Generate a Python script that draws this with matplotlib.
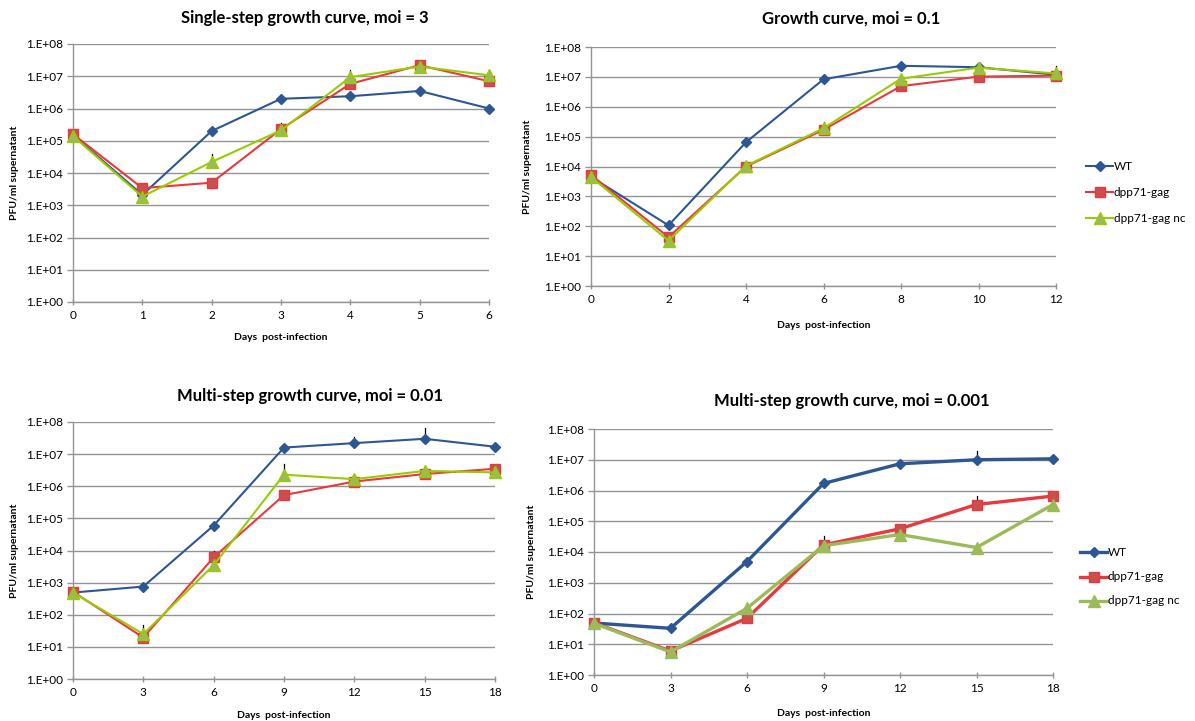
import numpy as np
import matplotlib
matplotlib.use("Agg")
import matplotlib.pyplot as plt

plt.rcParams['font.family'] = ['Lato', 'DejaVu Sans']

series_names = ["WT", "dpp71-gag", "dpp71-gag nc"]

# --- Single-step growth curve, moi = 3 ---
days_a = [0, 1, 2, 3, 4, 5, 6]
wt_a = [1.5e5, 2.1e3, 2.0e5, 2.0e6, 2.4e6, 3.5e6, 1.0e6]
gag_a = [1.6e5, 3.4e3, 5.0e3, 2.3e5, 5.8e6, 2.2e7, 7.0e6]
nc_a = [1.4e5, 1.85e3, 2.2e4, 2.1e5, 9.4e6, 2.0e7, 1.07e7]
wt_a_top = [None, 2.6e3, None, None, None, None, None]
gag_a_top = [2.0e5, None, None, 3.0e5, None, None, None]
nc_a_top = [None, None, 3.8e4, 3.5e5, 1.6e7, None, None]

# --- Growth curve, moi = 0.1 ---
days_b = [0, 2, 4, 6, 8, 10, 12]
wt_b = [4.5e3, 1.07e2, 6.5e4, 8.3e6, 2.35e7, 2.1e7, 1.18e7]
gag_b = [5.2e3, 43, 1.0e4, 1.7e5, 4.9e6, 1.02e7, 1.1e7]
nc_b = [4.5e3, 33, 1.05e4, 1.9e5, 8.7e6, 2.04e7, 1.3e7]
wt_b_top = [None, None, None, None, None, None, None]
gag_b_top = [None, None, None, None, None, None, None]
nc_b_top = [None, None, None, 3.2e5, None, 2.9e7, 2.3e7]

# --- Multi-step growth curve, moi = 0.01 ---
days_c = [0, 3, 6, 9, 12, 15, 18]
wt_c = [490, 755, 6.0e4, 1.6e7, 2.2e7, 3.0e7, 1.7e7]
gag_c = [520, 19.5, 6.1e3, 5.3e5, 1.4e6, 2.4e6, 3.5e6]
nc_c = [490, 25, 3.5e3, 2.3e6, 1.66e6, 3.0e6, 2.7e6]
wt_c_top = [None, None, None, None, 3.4e7, 6.5e7, None]
gag_c_top = [None, None, 1.0e4, None, None, None, None]
nc_c_top = [None, 49, None, 5.1e6, None, None, None]

# --- Multi-step growth curve, moi = 0.001 ---
days_d = [0, 3, 6, 9, 12, 15, 18]
wt_d = [49, 33, 4.9e3, 1.7e6, 7.4e6, 1.0e7, 1.07e7]
gag_d = [50, 6.0, 70, 1.7e4, 5.7e4, 3.5e5, 6.6e5]
nc_d = [48, 5.6, 148, 1.6e4, 3.7e4, 1.4e4, 3.5e5]
wt_d_top = [None, None, None, None, None, 1.9e7, None]
gag_d_top = [None, None, None, 3.2e4, None, 6.8e5, None]
nc_d_top = [None, None, None, None, None, None, None]

ytick_vals = [1e0, 1e1, 1e2, 1e3, 1e4, 1e5, 1e6, 1e7, 1e8]
ytick_labels = ["1.E+00", "1.E+01", "1.E+02", "1.E+03", "1.E+04",
                "1.E+05", "1.E+06", "1.E+07", "1.E+08"]

WT_COLOR = "#2c5793"
RED_LINE = "#e8393f"
RED_FILL = "#c9504f"
GREEN_LINE = "#99cc00"
GREEN_FILL = "#9bbb59"
AXIS_GRAY = "#949494"

W, H = 1195, 721
fig = plt.figure(figsize=(W / 100, H / 100), dpi=100)
fig.patch.set_facecolor("white")


def px_rect(x0, x1, ytop, ybot):
    return [x0 / W, 1 - ybot / H, (x1 - x0) / W, (ybot - ytop) / H]


panels = [
    dict(rect=px_rect(73, 489, 44, 302),
         days=days_a, data=(wt_a, gag_a, nc_a), tops=(wt_a_top, gag_a_top, nc_a_top),
         title="Single-step growth curve, moi = 3", title_xy=(305, 18), lw=1.5,
         green_line=GREEN_LINE, xlab_y=337, ylab_x=15),
    dict(rect=px_rect(591, 1056, 47, 286),
         days=days_b, data=(wt_b, gag_b, nc_b), tops=(wt_b_top, gag_b_top, nc_b_top),
         title="Growth curve, moi = 0.1", title_xy=(851, 19), lw=1.5,
         green_line=GREEN_LINE, xlab_y=326, ylab_x=527,
         legend=(1086, 166, 26)),
    dict(rect=px_rect(73, 495, 422, 679),
         days=days_c, data=(wt_c, gag_c, nc_c), tops=(wt_c_top, gag_c_top, nc_c_top),
         title="Multi-step growth curve, moi = 0.01", title_xy=(310, 396), lw=1.5,
         green_line=GREEN_LINE, xlab_y=715, ylab_x=15),
    dict(rect=px_rect(594, 1053, 429, 675),
         days=days_d, data=(wt_d, gag_d, nc_d), tops=(wt_d_top, gag_d_top, nc_d_top),
         title="Multi-step growth curve, moi = 0.001", title_xy=(852, 401), lw=2.4,
         green_line=GREEN_FILL, xlab_y=714, ylab_x=532,
         legend=(1080, 552, 24.5)),
]

for p in panels:
    ax = fig.add_axes(p["rect"])
    days = p["days"]
    wt, gag, nc = p["data"]
    lw = p["lw"]
    styles = [
        dict(color=WT_COLOR, marker="D", ms=5.5, mfc=WT_COLOR, mec=WT_COLOR),
        dict(color=RED_LINE, marker="s", ms=7.5, mfc=RED_FILL, mec=RED_LINE),
        dict(color=p["green_line"], marker="^", ms=8, mfc=GREEN_FILL, mec=p["green_line"]),
    ]
    handles = []
    for vals, tops, st, name in zip((wt, gag, nc), p["tops"], styles, series_names):
        # upper-only error bars
        for d, v, t in zip(days, vals, tops):
            if t is not None:
                ax.plot([d, d], [v, t], color="black", lw=0.9, zorder=2, clip_on=False)
        h, = ax.plot(days, vals, lw=lw, label=name, zorder=3, clip_on=False,
                     markeredgewidth=1.0, **st)
        handles.append(h)

    ax.set_yscale("log")
    ax.set_ylim(1e0, 1e8)
    ax.set_xlim(days[0], days[-1])
    ax.set_xticks(days)
    ax.set_xticklabels([str(d) for d in days])
    ax.set_yticks(ytick_vals)
    ax.set_yticklabels(ytick_labels)
    ax.yaxis.set_minor_locator(matplotlib.ticker.NullLocator())
    ax.grid(axis="y", color=AXIS_GRAY, lw=1.0)
    ax.set_axisbelow(True)
    for s in ("top", "right"):
        ax.spines[s].set_visible(False)
    for s in ("left", "bottom"):
        ax.spines[s].set_color(AXIS_GRAY)
        ax.spines[s].set_linewidth(1.0)
    ax.tick_params(axis="both", colors=AXIS_GRAY, labelcolor="black",
                   labelsize=8.5, length=4, width=1.0)
    ax.tick_params(axis="x", direction="inout", length=5, pad=3)
    ax.tick_params(axis="y", pad=3)
    ax.set_facecolor("white")

    l, b, w, h_ = p["rect"]
    tx, ty = p["title_xy"]
    fig.text(tx / W, 1 - ty / H, p["title"], ha="center", va="center",
             fontsize=12, fontweight="bold")
    fig.text(l + w / 2, 1 - p["xlab_y"] / H, "Days  post-infection", ha="center",
             va="center", fontsize=7.5, fontweight="bold")
    fig.text(p["ylab_x"] / W, b + h_ / 2, "PFU/ml supernatant", rotation=90,
             ha="center", va="center", fontsize=7.5, fontweight="bold")

    if "legend" in p:
        lx, ly, dy = p["legend"]
        for i, (hd, name) in enumerate(zip(handles, series_names)):
            y = 1 - (ly + i * dy) / H
            x0 = lx / W
            x1 = (lx + 27) / W
            fig.add_artist(matplotlib.lines.Line2D([x0, x1], [y, y], color=hd.get_color(),
                                                   lw=lw, transform=fig.transFigure))
            fig.add_artist(matplotlib.lines.Line2D([(x0 + x1) / 2], [y],
                                                   marker=hd.get_marker(),
                                                   ms=hd.get_markersize(),
                                                   mfc=hd.get_markerfacecolor(),
                                                   mec=hd.get_markeredgecolor(),
                                                   transform=fig.transFigure))
            fig.text(x1 + 1 / W, y, name, ha="left", va="center", fontsize=8.5)

fig.savefig("out.png", dpi=100, facecolor="white")
